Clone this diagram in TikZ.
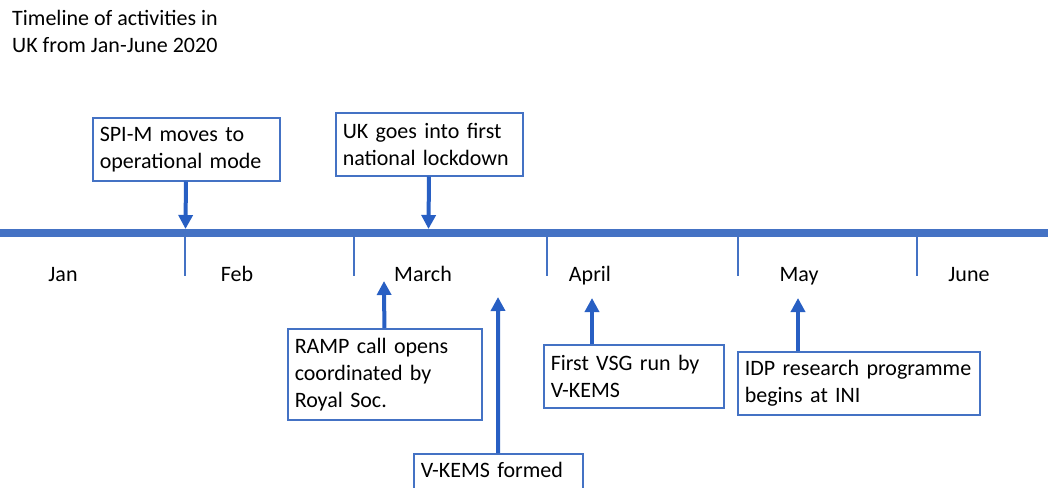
\documentclass[tikz,border=0pt]{standalone}
\usepackage{fontspec}
\setmainfont{Carlito}
\usetikzlibrary{arrows.meta}
\definecolor{barblue}{RGB}{68,114,196}
\definecolor{arrowblue}{RGB}{40,95,195}

\begin{document}
\begin{tikzpicture}[
		x=1pt, y=-1pt,
		every node/.style={font=\fontsize{22}{27}\selectfont, inner sep=0pt},
		event/.style={draw=barblue, line width=1.5pt, align=left, anchor=north west, inner xsep=7pt, inner ysep=6pt, minimum height=63pt},
		month/.style={anchor=base},
		bar/.style={draw=barblue, line width=8pt},
		tick/.style={draw=barblue, line width=1.2pt},
		to/.style={-{Triangle[length=14pt,width=14pt]}, line width=4pt, draw=arrowblue}
		]
		
		\useasboundingbox (0,0) rectangle (1048,487);
		\clip (0,0) rectangle (1048,487);
		
		\node[anchor=north west, align=left] (title) at (12,10) {Timeline of activities in\\UK from Jan-June 2020};
		
		% timeline
		\coordinate (bar west) at (0,233);
		\coordinate (bar east) at (1048,233);
		\draw[bar] (bar west) -- (bar east);
		\foreach \x in {185,354,547,738,917}
			\draw[tick] (\x,237) -- (\x,276);
		\foreach \x/\m in {63/Jan,237/Feb,423/March,590/April,799/May,969/June}
			\node[month] (\m) at (\x,281) {\m};
		
		% events
		\node[event, text width=173pt] (spim) at (92,117) {SPI-M moves to\\operational mode};
		\node[event, text width=173pt] (lockdown) at (335,112) {UK goes into first\\national lockdown};
		\node[event, text width=180pt, minimum height=91pt] (ramp) at (287,328) {RAMP call opens\\coordinated by\\Royal Soc.};
		\node[event, text width=155pt, minimum height=60pt] (vkems) at (413,453) {V-KEMS formed\\\phantom{x}};
		\node[event, text width=166pt] (vsg) at (543,344) {First VSG run by\\V-KEMS};
		\node[event, text width=228pt] (idp) at (737,351) {IDP research programme\\begins at INI};
		
		\coordinate (spim tip) at (185.5,229);
		\coordinate (lockdown tip) at (428.5,229);
		\coordinate (ramp tip) at (384,281);
		\coordinate (vkems tip) at (498,297);
		\coordinate (vsg tip) at (592,298);
		\coordinate (idp tip) at (798,298);
		
		\draw[to] (spim) -- (spim tip);
		\draw[to] (lockdown) -- (lockdown tip);
		\draw[to] (ramp) -- (ramp tip);
		\draw[to] (vkems) -- (vkems tip);
		\draw[to] (vsg tip |- vsg.north) -- (vsg tip);
		\draw[to] (idp tip |- idp.north) -- (idp tip);
		
\end{tikzpicture}
\end{document}
